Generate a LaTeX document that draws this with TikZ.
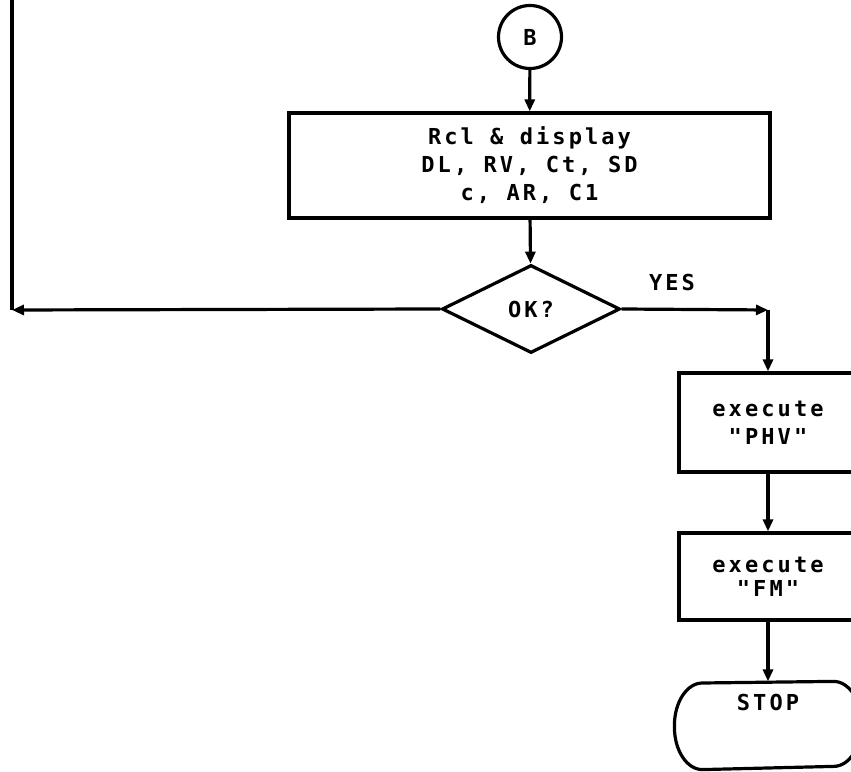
\documentclass[tikz,border=0pt]{standalone}
\usepackage{fontspec}
\newfontfamily\leroy[LetterSpace=14]{DejaVu Sans Mono Bold}
\usetikzlibrary{shapes.geometric,arrows.meta}
\begin{document}
\begin{tikzpicture}[x=1pt,y=1pt,line width=3.2pt,
  font=\leroy\fontsize{22}{28}\selectfont,
  box/.style={draw,rectangle,align=center,inner sep=0pt},
  flow/.style={-{Triangle[length=12pt,width=10pt]}},
  decision/.style={draw,diamond,minimum width=178pt,minimum height=88pt,inner sep=0pt},
  connector/.style={draw,circle,minimum size=63pt,inner sep=0pt}]
\useasboundingbox (0,0) rectangle (851,771);
\clip (0,0) rectangle (851,771);
\fill[white] (0,0) rectangle (851,771);
\node[connector] (b) at (530,734) {B};
\node[box,minimum width=481pt,minimum height=105pt] (rcl) at (529.5,605.5)
  {Rcl \& display\\DL, RV, Ct, SD\\c, AR, C1};
\node[decision] (ok) at (531,462) {OK?};
\node (yes) at (672,489) {YES};
\coordinate (lc) at (12,461);
\coordinate (lt) at (12,775);
\coordinate (rc) at (768,461);
\node[box,minimum width=178pt,minimum height=99pt] (phv) at (768,348.5) {execute\\"PHV"};
\node[box,minimum width=178pt,minimum height=87pt,font=\leroy\fontsize{22}{24}\selectfont] (fm) at (768,194.5) {execute\\"FM"};
\node[minimum width=184pt,minimum height=85pt,inner sep=0pt,text height=12pt,text depth=41pt] (stop) at (768,45.5) {STOP};
\draw[line join=round] (stop.west)
  arc[start angle=180,end angle=90,x radius=28pt,y radius=42.5pt]
  -- ([xshift=-28pt]stop.north east)
  arc[start angle=90,end angle=-90,x radius=28pt,y radius=42.5pt]
  -- ([xshift=28pt]stop.south west)
  arc[start angle=270,end angle=180,x radius=28pt,y radius=42.5pt] -- cycle;
\draw[flow] (b) -- (rcl);
\draw[flow] (rcl) -- (ok);
\draw[flow] (ok.west) -- (lc);
\draw (lc) -- (lt);
\draw[flow] (ok.east) -- (rc);
\draw[flow] (rc) -- (phv);
\draw[flow] (phv) -- (fm);
\draw[flow] (fm) -- (stop);
\end{tikzpicture}
\end{document}
